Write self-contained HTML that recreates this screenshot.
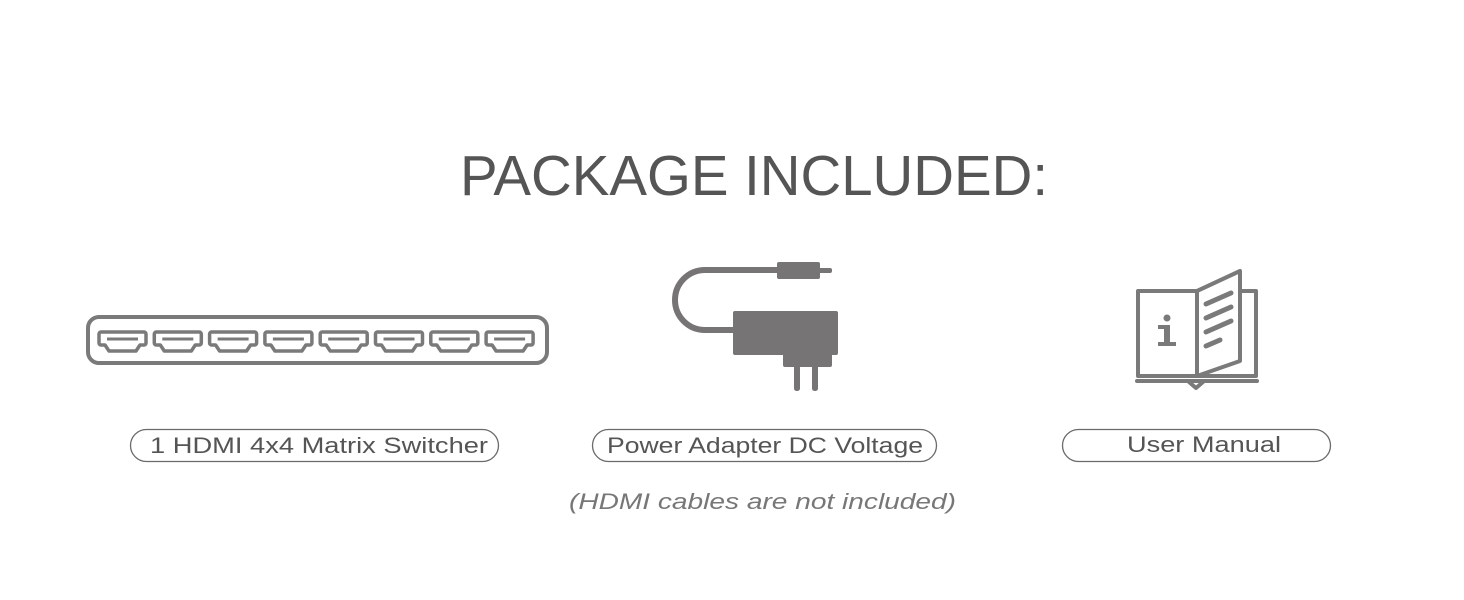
<!DOCTYPE html>
<html><head><style>html,body{margin:0;padding:0;background:#fff;}svg{display:block;}</style></head>
<body>
<svg width="1464" height="600" viewBox="0 0 1464 600" xmlns="http://www.w3.org/2000/svg" font-family="Liberation Sans, sans-serif">
<text x="460" y="195" font-size="57" fill="#555" textLength="588" lengthAdjust="spacingAndGlyphs">PACKAGE INCLUDED:</text>

<!-- switcher -->
<rect x="88" y="317" width="459" height="46" rx="11" fill="none" stroke="#7a7a7a" stroke-width="4"/>
<g fill="none" stroke="#7a7a7a" stroke-width="3.5" stroke-linejoin="round">
<g id="p">
<path d="M101 332 h43 a2 2 0 0 1 2 2 v9 a2 2 0 0 1 -2 2 h-4 l-4 6 h-27 l-4 -6 h-4 a2 2 0 0 1 -2 -2 v-9 a2 2 0 0 1 2 -2z"/>
<line x1="107" y1="339" x2="138" y2="339" stroke-width="3"/>
</g>
<use href="#p" x="55.3"/><use href="#p" x="110.6"/><use href="#p" x="165.9"/><use href="#p" x="221.2"/><use href="#p" x="276.5"/><use href="#p" x="331.8"/><use href="#p" x="387.1"/>
</g>

<!-- adapter -->
<g fill="#767474">
<path d="M790 270 H705 A30 30 0 0 0 705 330 H740" fill="none" stroke="#767474" stroke-width="6"/>
<rect x="777" y="262" width="43" height="17" rx="2"/>
<rect x="818" y="268" width="14" height="5" rx="2"/>
<rect x="733" y="311" width="105" height="44" rx="2"/>
<rect x="783" y="350" width="49" height="17" rx="2"/>
<rect x="794" y="362" width="6" height="29" rx="2.5"/>
<rect x="812" y="362" width="6" height="29" rx="2.5"/>
</g>

<!-- book -->
<g fill="none" stroke="#7a7a7a" stroke-width="4" stroke-linejoin="round" stroke-linecap="round">
<rect x="1138" y="291" width="59" height="85"/>
<path d="M1241 291 H1256 V376 H1197"/>
<path d="M1197 291 L1240 271 V361 L1197 376 Z"/>
<path d="M1206 304 L1231 293 M1206 318 L1231 307 M1206 332 L1231 321 M1206 346 L1220 340" stroke-width="5"/>
<path d="M1137 381 H1257"/>
<path d="M1189 382 L1196 388 L1203 382"/>
</g>
<g fill="#7a7a7a">
<circle cx="1167" cy="318" r="3.5"/>
<rect x="1164" y="325" width="6" height="20"/>
<rect x="1158" y="325" width="10" height="4"/>
<rect x="1158" y="342" width="18" height="4"/>
</g>

<!-- labels -->
<g fill="none" stroke="#6a6a6a" stroke-width="1.3">
<rect x="130.5" y="429.5" width="368" height="32" rx="16"/>
<rect x="592.5" y="429.5" width="344" height="32" rx="16"/>
<rect x="1062.5" y="429.5" width="268" height="32" rx="16"/>
</g>
<g fill="#555" font-size="22">
<text x="150" y="453" textLength="338" lengthAdjust="spacingAndGlyphs">1 HDMI 4x4 Matrix Switcher</text>
<text x="607" y="453" textLength="316" lengthAdjust="spacingAndGlyphs">Power Adapter DC Voltage</text>
<text x="1127" y="452" textLength="154" lengthAdjust="spacingAndGlyphs">User Manual</text>
<text x="569" y="509" font-style="italic" fill="#777" textLength="387" lengthAdjust="spacingAndGlyphs">(HDMI cables are not included)</text>
</g>
</svg>
</body></html>
